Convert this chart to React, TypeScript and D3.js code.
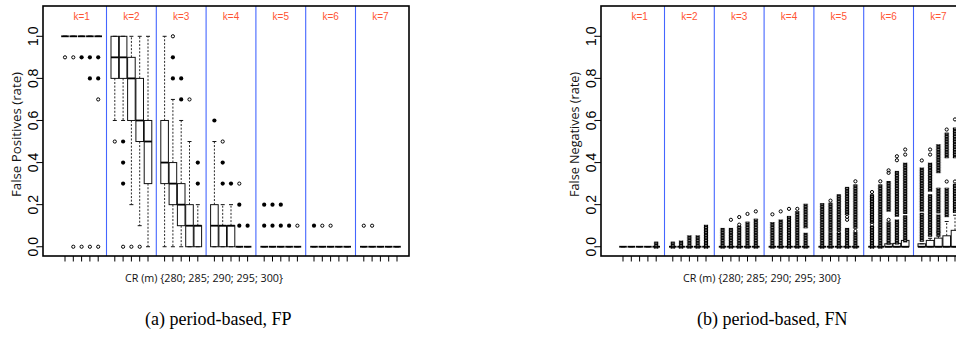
import * as d3 from 'd3';

const groupLabels = ['k=1', 'k=2', 'k=3', 'k=4', 'k=5', 'k=6', 'k=7'];
const crValues = [280, 285, 290, 295, 300];
const yTicks = [0, 0.2, 0.4, 0.6, 0.8, 1.0];

// FP boxes: [lower whisker, q1, median, q3, upper whisker], per k, per CR
const fpStats: number[][][] = [
  [[1, 1, 1, 1, 1], [1, 1, 1, 1, 1], [1, 1, 1, 1, 1], [1, 1, 1, 1, 1], [1, 1, 1, 1, 1]],
  [[0.6, 0.8, 0.9, 1, 1], [0.6, 0.8, 0.9, 1, 1], [0.2, 0.6, 0.8, 0.9, 1], [0.1, 0.5, 0.6, 0.8, 1], [0, 0.3, 0.5, 0.6, 1]],
  [[0, 0.3, 0.4, 0.6, 1], [0, 0.2, 0.3, 0.4, 0.7], [0, 0.1, 0.2, 0.3, 0.6], [0, 0, 0.1, 0.2, 0.5], [0, 0, 0.1, 0.1, 0.2]],
  [[0, 0, 0.1, 0.2, 0.5], [0, 0, 0.1, 0.1, 0.2], [0, 0, 0.1, 0.1, 0.2], [0, 0, 0, 0, 0], [0, 0, 0, 0, 0]],
  [[0, 0, 0, 0, 0], [0, 0, 0, 0, 0], [0, 0, 0, 0, 0], [0, 0, 0, 0, 0], [0, 0, 0, 0, 0]],
  [[0, 0, 0, 0, 0], [0, 0, 0, 0, 0], [0, 0, 0, 0, 0], [0, 0, 0, 0, 0], [0, 0, 0, 0, 0]],
  [[0, 0, 0, 0, 0], [0, 0, 0, 0, 0], [0, 0, 0, 0, 0], [0, 0, 0, 0, 0], [0, 0, 0, 0, 0]],
];

// FP outliers: [value, overplotted (1) or single (0)]
const fpOutliers: number[][][][] = [
  [[[0.9, 0]], [[0.9, 0], [0, 0]], [[0.9, 1], [0, 0]], [[0.9, 1], [0.8, 1], [0, 0]], [[0.9, 1], [0.8, 1], [0.7, 0], [0, 0]]],
  [[[0.5, 0]], [[0.5, 1], [0.4, 1], [0.3, 1], [0, 0]], [[0, 0]], [[0, 0]], []],
  [[], [[1, 0], [0.9, 1], [0.8, 1]], [[0.8, 1], [0.7, 1]], [[0.7, 0]], [[0.4, 1], [0.3, 1]]],
  [[[0.6, 1]], [[0.5, 0], [0.4, 1], [0.3, 1]], [[0.3, 1]], [[0.3, 0], [0.2, 1], [0.1, 1]], [[0.1, 1]]],
  [[[0.2, 1], [0.1, 1]], [[0.2, 1], [0.1, 1]], [[0.2, 1], [0.1, 1]], [[0.1, 1]], [[0.1, 0]]],
  [[[0.1, 1]], [[0.1, 0]], [[0.1, 0]], [], []],
  [[[0.1, 0]], [[0.1, 0]], [], [], []],
];

// FN boxes
const fnStats: number[][][] = [
  [[0, 0, 0, 0, 0], [0, 0, 0, 0, 0], [0, 0, 0, 0, 0], [0, 0, 0, 0, 0], [0, 0, 0, 0, 0]],
  [[0, 0, 0, 0, 0], [0, 0, 0, 0, 0], [0, 0, 0, 0, 0], [0, 0, 0, 0, 0], [0, 0, 0, 0, 0]],
  [[0, 0, 0, 0, 0], [0, 0, 0, 0, 0], [0, 0, 0, 0, 0], [0, 0, 0, 0, 0], [0, 0, 0, 0, 0]],
  [[0, 0, 0, 0, 0], [0, 0, 0, 0, 0], [0, 0, 0, 0, 0], [0, 0, 0, 0, 0], [0, 0, 0, 0, 0]],
  [[0, 0, 0, 0, 0], [0, 0, 0, 0, 0], [0, 0, 0, 0, 0], [0, 0, 0, 0, 0], [0, 0, 0, 0, 0]],
  [[0, 0, 0, 0, 0], [0, 0, 0, 0, 0], [0, 0, 0, 0.014, 0.014], [0, 0, 0, 0.016, 0.016], [0, 0, 0, 0.03, 0.03]],
  [[0, 0, 0, 0.014, 0.014], [0, 0, 0, 0.03, 0.04], [0, 0, 0, 0.041, 0.07], [0, 0, 0, 0.052, 0.12], [0, 0, 0, 0.078, 0.15]],
];

// FN outliers packed so tightly they form columns: [from, to]
const fnDense: number[][][][] = [
  [[], [], [], [], [[0, 0.015]]],
  [[[0, 0.015]], [[0, 0.02]], [[0, 0.045]], [[0, 0.045]], [[0, 0.095]]],
  [[[0, 0.08]], [[0, 0.08]], [[0, 0.09]], [[0, 0.11]], [[0, 0.124]]],
  [[[0, 0.108]], [[0, 0.12]], [[0, 0.137]], [[0, 0.16]], [[0, 0.057], [0.097, 0.195]]],
  [[[0, 0.198]], [[0, 0.06], [0.08, 0.2]], [[0, 0.057], [0.081, 0.24]], [[0, 0.08], [0.16, 0.275]], [[0, 0.06], [0.095, 0.287]]],
  [[[0, 0.09], [0.12, 0.24]], [[0, 0.287]], [[0.02, 0.11], [0.176, 0.303]], [[0.02, 0.12], [0.152, 0.351]], [[0.03, 0.14], [0.165, 0.39]]],
  [[[0.033, 0.152], [0.176, 0.367]], [[0.057, 0.24], [0.271, 0.39]], [[0.057, 0.144], [0.168, 0.271], [0.359, 0.478]], [[0.15, 0.271], [0.43, 0.533]], [[0.17, 0.29], [0.43, 0.557]]],
];

// FN isolated outliers
const fnPoints: number[][][] = [
  [[], [], [], [], []],
  [[], [], [], [], []],
  [[], [0.128], [0.105, 0.141], [0.156], [0.168]],
  [[0.154], [0.168], [0.18], [0.18], []],
  [[], [0.219], [0.065], [0.128, 0.142], [0.075, 0.311]],
  [[0.105, 0.26], [0.311], [0.128, 0.351, 0.363], [0.411, 0.43], [0.438, 0.462]],
  [[0.41], [0.438, 0.462], [], [0.31, 0.557], [0.31, 0.605]],
];

const blue = '#4466ff';
const red = '#ff5533';
const sans = 'Liberation Sans, Arial, sans-serif';
const humanist = 'Open Sans, sans-serif';

function Panel({ id, dx, stats, outliers, dense, points, yLabel, caption, captionX }: any) {
  const x = d3.scaleLinear().domain([1, 41]).range([65 + dx, 397 + dx]);
  const y = d3.scaleLinear().domain([-0.044, 1.144]).range([256, 6]);
  const pos = (g: number, j: number) => g * 6 + j + 1;
  const bw = 7.6;
  const frameL = 43 + dx;
  const frameR = 409 + dx;

  return (
    <g>
      <defs>
        {dense &&
          dense.map((grp: number[][][], g: number) =>
            grp.map((ranges, j) => (
              <pattern
                key={`p${g}${j}`}
                id={`${id}-dots-${g}-${j}`}
                patternUnits="userSpaceOnUse"
                x={x(pos(g, j)) - 3}
                y={0}
                width={6}
                height={2.6}
              >
                <circle cx={3} cy={1.3} r={2.2} fill="#000" />
                <circle cx={3} cy={1.3} r={0.55} fill="#fff" />
              </pattern>
            ))
          )}
      </defs>

      {/* group separators */}
      {groupLabels.slice(0, -1).map((_, g) => (
        <line key={`s${g}`} x1={x(g * 6 + 6)} x2={x(g * 6 + 6)} y1={6} y2={256} stroke={blue} strokeWidth={1.1} />
      ))}

      {groupLabels.map((lab, g) => (
        <text key={lab} x={x(g * 6 + 3)} y={19.5} textAnchor="middle" fontFamily={sans} fontSize={10} fill={red}>
          {lab}
        </text>
      ))}

      {/* boxes */}
      {stats.map((grp: number[][], g: number) =>
        grp.map((s, j) => {
          const [lo, q1, med, q3, hi] = s;
          const cx = x(pos(g, j));
          return (
            <g key={`b${g}${j}`}>
              {hi > q3 && <line x1={cx} x2={cx} y1={y(q3)} y2={y(hi)} stroke="#111" strokeWidth={0.9} strokeDasharray="2,1.6" />}
              {lo < q1 && <line x1={cx} x2={cx} y1={y(q1)} y2={y(lo)} stroke="#111" strokeWidth={0.9} strokeDasharray="2,1.6" />}
              <line x1={cx - 2} x2={cx + 2} y1={y(hi)} y2={y(hi)} stroke="#111" strokeWidth={1} />
              <line x1={cx - 2} x2={cx + 2} y1={y(lo)} y2={y(lo)} stroke="#111" strokeWidth={1} />
              <rect x={cx - bw / 2} y={y(q3)} width={bw} height={y(q1) - y(q3)} fill="none" stroke="#111" strokeWidth={1} />
              <line x1={cx - bw / 2} x2={cx + bw / 2} y1={y(med)} y2={y(med)} stroke="#000" strokeWidth={1.8} />
            </g>
          );
        })
      )}

      {/* outliers */}
      {outliers &&
        outliers.map((grp: number[][][], g: number) =>
          grp.map((pts, j) =>
            pts.map(([v, f], i) =>
              f ? (
                <circle key={`o${g}${j}${i}`} cx={x(pos(g, j))} cy={y(v)} r={2.1} fill="#000" />
              ) : (
                <circle key={`o${g}${j}${i}`} cx={x(pos(g, j))} cy={y(v)} r={1.6} fill="none" stroke="#000" strokeWidth={1} />
              )
            )
          )
        )}

      {dense &&
        dense.map((grp: number[][][], g: number) =>
          grp.map((ranges, j) =>
            ranges.map(([a, b], i) => (
              <rect
                key={`d${g}${j}${i}`}
                x={x(pos(g, j)) - 3}
                y={y(b) - 2}
                width={6}
                height={y(a) - y(b) + 4}
                fill={`url(#${id}-dots-${g}-${j})`}
              />
            ))
          )
        )}

      {points &&
        points.map((grp: number[][], g: number) =>
          grp.map((pts, j) =>
            pts.map((v, i) => (
              <circle key={`q${g}${j}${i}`} cx={x(pos(g, j))} cy={y(v)} r={1.6} fill="none" stroke="#000" strokeWidth={1} />
            ))
          )
        )}

      {/* frame */}
      <rect x={frameL} y={6} width={frameR - frameL} height={250} fill="none" stroke="#000" strokeWidth={1.6} />

      {/* x ticks */}
      {groupLabels.map((_, g) =>
        crValues.map((cr, j) => (
          <line key={`xt${g}${cr}`} x1={x(pos(g, j))} x2={x(pos(g, j))} y1={256} y2={261.5} stroke="#000" strokeWidth={1} />
        ))
      )}

      {/* y axis */}
      {yTicks.map((t) => (
        <g key={`yt${t}`}>
          <line x1={frameL - 5} x2={frameL} y1={y(t)} y2={y(t)} stroke="#000" strokeWidth={1} />
          <text
            transform={`translate(${frameL - 5.5},${y(t)}) rotate(-90)`}
            textAnchor="middle"
            fontFamily={sans}
            fontSize={14}
            fill="#000"
          >
            {t.toFixed(1)}
          </text>
        </g>
      ))}

      <text
        transform={`translate(${21 + dx},134.5) rotate(-90)`}
        textAnchor="middle"
        fontFamily={humanist}
        fontSize={12.5}
        textLength={125}
        lengthAdjust="spacingAndGlyphs"
        fill="#111"
      >
        {yLabel}
      </text>

      <text x={125 + dx} y={282} fontFamily={humanist} fontSize={10.5} textLength={158} lengthAdjust="spacingAndGlyphs" fill="#111">
        {`CR (m) {${crValues.join('; ')}}`}
      </text>

      <text x={captionX} y={325} fontFamily="Liberation Serif, Times New Roman, serif" fontSize={18} fill="#000">
        {caption}
      </text>
    </g>
  );
}

export default function App() {
  return (
    <svg width={956} height={354} style={{ position: 'absolute', left: 0, top: 0, background: '#fff' }}>
      <rect width={956} height={354} fill="#fff" />
      <Panel
        id="fp"
        dx={0}
        stats={fpStats}
        outliers={fpOutliers}
        yLabel="False Positives (rate)"
        caption="(a) period-based, FP"
        captionX={145}
      />
      <Panel
        id="fn"
        dx={558}
        stats={fnStats}
        dense={fnDense}
        points={fnPoints}
        yLabel="False Negatives (rate)"
        caption="(b) period-based, FN"
        captionX={697}
      />
    </svg>
  );
}
